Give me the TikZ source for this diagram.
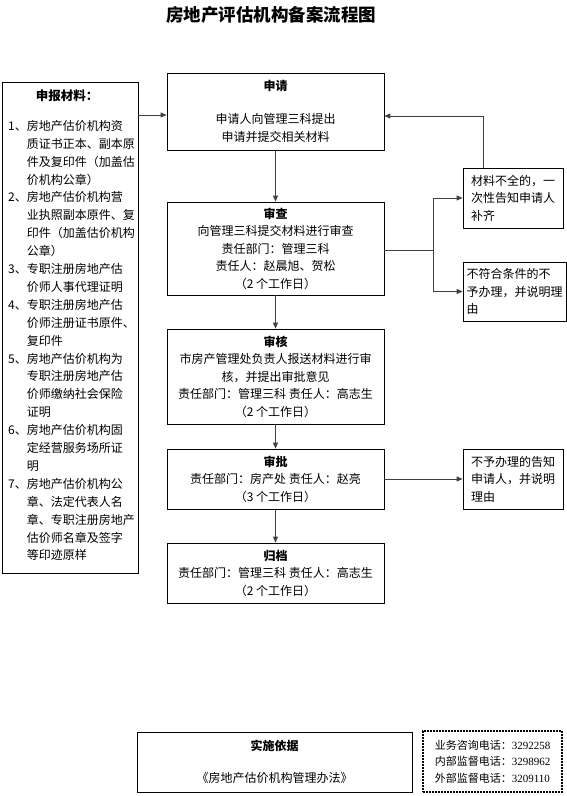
\documentclass[tikz,border=0pt]{standalone}
\usepackage{fontspec}
\setmainfont{Noto Sans CJK SC}
\newfontfamily\numfont{Liberation Serif}
\usetikzlibrary{arrows.meta}

\tikzset{
  flowbox/.style={draw, line width=0.8pt, minimum width=217pt, align=center, inner sep=0pt,
    font=\fontsize{12}{17.5}\selectfont},
  notebox/.style={draw, line width=0.8pt, minimum height=60pt, align=left, inner sep=0pt,
    font=\fontsize{12}{17.5}\selectfont},
  link/.style={draw=black!75, line width=0.9pt, -{Triangle[length=6pt,width=5pt]}},
}
\newcommand\ind{\phantom{1、}}

\begin{document}
\begin{tikzpicture}[x=1pt,y=-1pt]
    \useasboundingbox (0,0) rectangle (567,796);
    % title
        \node[font=\fontsize{17.5}{20}\selectfont\bfseries] (title) at (271,15) {房地产评估机构备案流程图};
    % materials
        \node[draw, line width=0.8pt, minimum width=136pt, minimum height=491pt] (materials) at (70,327.5) {};
        \node[font=\fontsize{12.5}{15}\selectfont\bfseries] (materialshead) at (67,96) {申报材料：};
        \node[anchor=north west, inner sep=0pt, align=left, font=\fontsize{12}{17.9}\selectfont] (materialslist) at (8,120) {%
            1、房地产估价机构资\\
            \ind 质证书正本、副本原\\
            \ind 件及复印件（加盖估\\
            \ind 价机构公章）\\
            2、房地产估价机构营\\
            \ind 业执照副本原件、复\\
            \ind 印件（加盖估价机构\\
            \ind 公章）\\
            3、专职注册房地产估\\
            \ind 价师人事代理证明\\
            4、专职注册房地产估\\
            \ind 价师注册证书原件、\\
            \ind 复印件\\
            5、房地产估价机构为\\
            \ind 专职注册房地产估\\
            \ind 价师缴纳社会保险\\
            \ind 证明\\
            6、房地产估价机构固\\
            \ind 定经营服务场所证\\
            \ind 明\\
            7、房地产估价机构公\\
            \ind 章、法定代表人名\\
            \ind 章、专职注册房地产\\
            \ind 估价师名章及签字\\
            \ind 等印迹原样};
    % steps
        \node[flowbox, minimum height=77pt] (shenqing) at (275.5,111.5) {\textbf{申请}\\[15.5pt]申请人向管理三科提出\\申请并提交相关材料};
        \node[flowbox, minimum height=93pt] (shencha) at (275.5,248.5) {\textbf{审查}\\向管理三科提交材料进行审查\\责任部门：管理三科\\责任人：赵晨旭、贺松\\（2 个工作日）};
        \node[flowbox, minimum height=95pt] (shenhe) at (275.5,376.5) {\textbf{审核}\\市房产管理处负责人报送材料进行审\\核，并提出审批意见\\责任部门：管理三科 责任人：高志生\\（2 个工作日）};
        \node[flowbox, minimum height=60pt] (shenpi) at (275.5,479) {\textbf{审批}\\责任部门：房产处 责任人：赵亮\\（3 个工作日）};
        \node[flowbox, minimum height=60pt] (guidang) at (275.5,573) {\textbf{归档}\\责任部门：管理三科 责任人：高志生\\（2 个工作日）};
    % side notes
        \node[notebox, minimum width=100pt] (buquan) at (513,198) {材料不全的，一\\次性告知申请人\\补齐};
        \node[notebox, minimum width=103pt, minimum height=59pt] (bufuhe) at (514.5,291.5) {不符合条件的不\\予办理，并说明理\\由};
        \node[notebox, minimum width=100pt] (buyu) at (513,479) {不予办理的告知\\申请人，并说明\\理由};
    % footer
        \node[draw, line width=0.8pt, minimum width=275pt, minimum height=60pt, align=center,
            font=\fontsize{12}{17.5}\selectfont] (basis) at (274.5,762) {\textbf{实施依据}\\[14pt]《房地产估价机构管理办法》};
        \node[draw, line width=1.6pt, dash pattern=on 1.6pt off 1.4pt, minimum width=139pt, minimum height=61pt,
            align=left, font=\fontsize{11}{16.5}\selectfont] (phones) at (492.5,761.5) {业务咨询电话：{\numfont 3292258}\\内部监督电话：{\numfont 3298962}\\外部监督电话：{\numfont 3209110}};
    % arrows
        \coordinate (feed) at (150,115);
        \draw[link] (materials.east |- feed) -- (shenqing.west |- feed);
        \foreach \a/\b in {shenqing/shencha,shencha/shenhe,shenhe/shenpi,shenpi/guidang}{
            \draw[link] (\a) -- (\b);
        }
        \coordinate (split) at (433,250);
        \draw[draw=black!75, line width=0.9pt] (shencha.east |- split) -- (split);
        \draw[link] (split) |- (buquan.west);
        \draw[link] (split) |- (bufuhe.west);
        \coordinate (back) at (483,116);
        \draw[link] (buquan.north -| back) -- (back) -- (shenqing.east |- back);
        \draw[link] (shenpi) -- (buyu);
\end{tikzpicture}
\end{document}
